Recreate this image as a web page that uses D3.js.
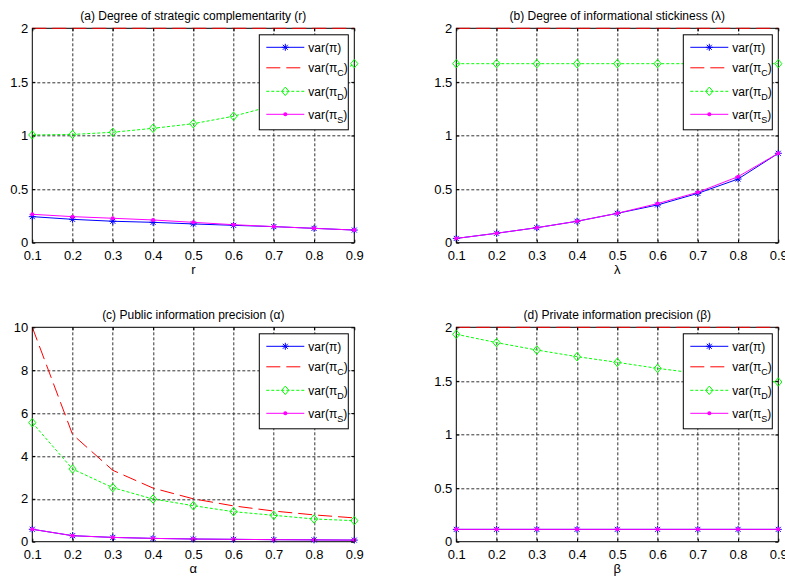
<!DOCTYPE html>
<html>
<head>
<meta charset="utf-8">
<script src="https://cdn.jsdelivr.net/npm/d3@7"></script>
<style>
  body { margin: 0; background: #fff; }
  text { font-family: "Liberation Sans", Arial, sans-serif; fill: #000; }
</style>
</head>
<body>
<script>
// x values shared by every panel
const xVals = [0.1, 0.2, 0.3, 0.4, 0.5, 0.6, 0.7, 0.8, 0.9];

// (a) strategic complementarity r
const aPi  = [0.243, 0.218, 0.200, 0.190, 0.175, 0.162, 0.150, 0.134, 0.118];
const aPiC = [2, 2, 2, 2, 2, 2, 2, 2, 2];
const aPiD = [1.005, 1.01, 1.03, 1.067, 1.11, 1.18, 1.28, 1.43, 1.67];
const aPiS = [0.265, 0.243, 0.228, 0.212, 0.19, 0.168, 0.150, 0.134, 0.118];

// (b) informational stickiness lambda
const bPi  = [0.04, 0.088, 0.14, 0.2, 0.274, 0.352, 0.46, 0.594, 0.834];
const bPiC = [2, 2, 2, 2, 2, 2, 2, 2, 2];
const bPiD = [1.67, 1.67, 1.67, 1.67, 1.67, 1.67, 1.67, 1.67, 1.67];
const bPiS = [0.04, 0.088, 0.14, 0.2, 0.274, 0.365, 0.47, 0.616, 0.834];

// (c) public information precision alpha
const cPi  = [0.58, 0.28, 0.2, 0.155, 0.125, 0.11, 0.095, 0.085, 0.075];
const cPiC = [10, 5, 3.33, 2.5, 2, 1.67, 1.43, 1.25, 1.11];
const cPiD = [5.55, 3.39, 2.52, 1.99, 1.68, 1.4, 1.23, 1.06, 0.98];
const cPiS = [0.58, 0.28, 0.2, 0.155, 0.125, 0.11, 0.095, 0.085, 0.075];

// (d) private information precision beta
const dPi  = [0.115, 0.115, 0.115, 0.115, 0.115, 0.115, 0.115, 0.115, 0.115];
const dPiC = [2, 2, 2, 2, 2, 2, 2, 2, 2];
const dPiD = [1.935, 1.857, 1.788, 1.726, 1.673, 1.617, 1.57, 1.53, 1.49];
const dPiS = [0.115, 0.115, 0.115, 0.115, 0.115, 0.115, 0.115, 0.115, 0.115];

const titles = [
  "(a) Degree of strategic complementarity (r)",
  "(b) Degree of informational stickiness (\u03bb)",
  "(c) Public information precision (\u03b1)",
  "(d) Private information precision (\u03b2)"
];
const xLabels = ["r", "\u03bb", "\u03b1", "\u03b2"];
const yTicksSmall = [0, 0.5, 1, 1.5, 2];
const yTicksBig = [0, 2, 4, 6, 8, 10];
const legendSubs = ["", "C", "D", "S"];

const w = 785;
const h = 579;
const pw = 322;
const ph = 214.4;

const svg = d3.select("body")
              .append("svg")
              .attr("width", w)
              .attr("height", h)

svg.append("rect").attr("width", w).attr("height", h).attr("fill", "#fff")

const styles = [
  {color: "#0000ff", dash: null, marker: "star"},
  {color: "#ff0000", dash: "14,6", marker: null},
  {color: "#00ff00", dash: "3,2", marker: "diamond"},
  {color: "#ff00ff", dash: null, marker: "dot"}
];

function drawMarker(g, type, color){
  if(type === "star"){
    g.append("path")
     .attr("d", "M-3.5,0h7M0,-3.5v7M-2.5,-2.5l5,5M-2.5,2.5l5,-5")
     .attr("stroke", color)
     .attr("stroke-width", 1)
     .attr("fill", "none")
  } else if(type === "diamond"){
    g.append("path")
     .attr("d", "M0,-4.2L3.6,0L0,4.2L-3.6,0Z")
     .attr("stroke", color)
     .attr("stroke-width", 1)
     .attr("fill", "none")
  } else if(type === "dot"){
    g.append("circle").attr("r", 2).attr("fill", color)
  }
}

function panel(params){
  const left = params.left, top = params.top;
  const chart = svg.append("g")
                   .attr("transform", "translate(" + left + "," + top + ")");

  const x = d3.scaleLinear().domain([0.1, 0.9]).range([0, pw]);
  const y = d3.scaleLinear().domain([0, params.yMax]).range([ph, 0]);

  //grid
  chart.append("g").selectAll("line")
       .data(xVals.slice(1, -1))
       .enter().append("line")
       .attr("x1", d => Math.round(x(d)) + 0.5).attr("x2", d => Math.round(x(d)) + 0.5)
       .attr("y1", 0).attr("y2", ph)
       .attr("stroke", "#333").attr("stroke-dasharray", "3,2")
  chart.append("g").selectAll("line")
       .data(params.yTicks.slice(1, -1))
       .enter().append("line")
       .attr("y1", d => Math.round(y(d)) + 0.5).attr("y2", d => Math.round(y(d)) + 0.5)
       .attr("x1", 0).attr("x2", pw)
       .attr("stroke", "#333").attr("stroke-dasharray", "3,2")

  //box
  chart.append("rect")
       .attr("width", pw).attr("height", ph)
       .attr("fill", "none").attr("stroke", "#000").attr("stroke-width", 1)

  //series
  params.series.forEach(function(vals, i){
    const st = styles[i];
    const line = d3.line()
                   .x((d, j) => x(xVals[j]))
                   .y(d => y(d));
    chart.append("path")
         .datum(vals)
         .attr("d", line)
         .attr("fill", "none")
         .attr("stroke", st.color)
         .attr("stroke-width", 1)
         .attr("stroke-dasharray", st.dash)
    if(st.marker){
      vals.forEach(function(v, j){
        const m = chart.append("g")
                       .attr("transform", "translate(" + x(xVals[j]) + "," + y(v) + ")");
        drawMarker(m, st.marker, st.color);
      })
    }
  })

  //axes
  const fmt = d => String(d);
  chart.append("g")
       .attr("transform", "translate(0," + ph + ")")
       .call(d3.axisBottom(x).tickValues(xVals).tickFormat(fmt).tickSizeInner(-3).tickSizeOuter(0).tickPadding(8))
       .call(g => g.select(".domain").remove())
  chart.append("g")
       .call(d3.axisLeft(y).tickValues(params.yTicks).tickFormat(fmt).tickSizeInner(-3).tickSizeOuter(0).tickPadding(4))
       .call(g => g.select(".domain").remove())
  chart.append("g")
       .call(d3.axisTop(x).tickValues(xVals).tickFormat("").tickSizeInner(-3).tickSizeOuter(0))
       .call(g => g.select(".domain").remove())
  chart.append("g")
       .attr("transform", "translate(" + pw + ",0)")
       .call(d3.axisRight(y).tickValues(params.yTicks).tickFormat("").tickSizeInner(-3).tickSizeOuter(0))
       .call(g => g.select(".domain").remove())
  chart.selectAll(".tick text")
       .attr("font-size", 13)
       .attr("font-family", "Liberation Sans, Arial, sans-serif")
       .attr("fill", "#000")
  chart.selectAll(".tick line").attr("stroke", "#000")

  //title and x label
  chart.append("text")
       .attr("x", pw / 2).attr("y", -8.5)
       .attr("text-anchor", "middle")
       .attr("font-size", 12)
       .text(params.title)
  chart.append("text")
       .attr("x", pw / 2).attr("y", ph + 31)
       .attr("text-anchor", "middle")
       .attr("font-size", 13)
       .text(params.xLabel)

  //legend
  const lg = chart.append("g").attr("transform", "translate(227,6.5)");
  lg.append("rect")
    .attr("width", 89).attr("height", 95)
    .attr("fill", "#fff").attr("stroke", "#000")
  const rowY = [12.5, 33, 56.5, 79.5];
  styles.forEach(function(st, i){
    lg.append("line")
      .attr("x1", 7).attr("x2", 45)
      .attr("y1", rowY[i]).attr("y2", rowY[i])
      .attr("stroke", st.color)
      .attr("stroke-dasharray", st.dash)
    if(st.marker){
      const m = lg.append("g").attr("transform", "translate(26," + rowY[i] + ")");
      drawMarker(m, st.marker, st.color);
    }
    const t = lg.append("text")
                .attr("x", 49).attr("y", rowY[i] + 4.5)
                .attr("font-size", 12)
    t.append("tspan").text("var(\u03c0");
    if(legendSubs[i]){
      t.append("tspan").attr("font-size", 9).attr("dy", 4).text(legendSubs[i]);
      t.append("tspan").attr("dy", -4).text(")");
    } else {
      t.append("tspan").text(")");
    }
  })
}

const lefts = [32.3, 456.3];
const tops = [28.3, 327.3];

panel({left: lefts[0], top: tops[0], yMax: 2, yTicks: yTicksSmall,
       series: [aPi, aPiC, aPiD, aPiS], title: titles[0], xLabel: xLabels[0]})
panel({left: lefts[1], top: tops[0], yMax: 2, yTicks: yTicksSmall,
       series: [bPi, bPiC, bPiD, bPiS], title: titles[1], xLabel: xLabels[1]})
panel({left: lefts[0], top: tops[1], yMax: 10, yTicks: yTicksBig,
       series: [cPi, cPiC, cPiD, cPiS], title: titles[2], xLabel: xLabels[2]})
panel({left: lefts[1], top: tops[1], yMax: 2, yTicks: yTicksSmall,
       series: [dPi, dPiC, dPiD, dPiS], title: titles[3], xLabel: xLabels[3]})
</script>
</body>
</html>
